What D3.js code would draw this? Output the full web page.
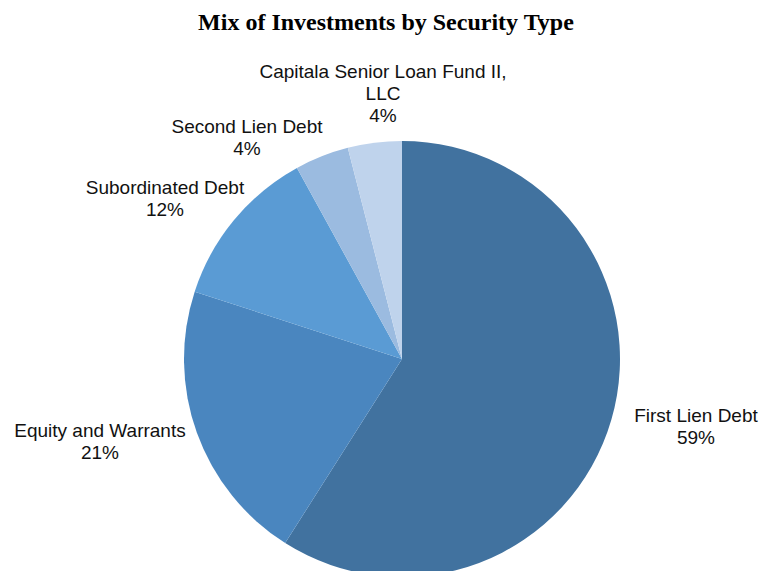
<!DOCTYPE html>
<html>
<head>
<meta charset="utf-8">
<script src="https://cdn.jsdelivr.net/npm/d3@7"></script>
<style>
  body { margin: 0; background: #fff; }
  svg { display: block; }
</style>
</head>
<body>
<div id="chart"></div>
<script>
const title = "Mix of Investments by Security Type";
const categories = ["First Lien Debt", "Equity and Warrants", "Subordinated Debt", "Second Lien Debt", "Capitala Senior Loan Fund II, LLC"];
const values = [59, 21, 12, 4, 4];
const colors = ["#41729f", "#4a86bf", "#5a9bd4", "#9bbbe0", "#bfd3ec"];
// label lines as shown in the picture
const labelLines = [
    ["First Lien Debt"],
    ["Equity and Warrants"],
    ["Subordinated Debt"],
    ["Second Lien Debt"],
    ["Capitala Senior Loan Fund II,", "LLC"]
];

const width = 761;
const height = 571;
const cx = 402, cy = 359, radius = 218;

const svg = d3.select("#chart")
    .append("svg")
    .attr("width", width)
    .attr("height", height);

svg.append("text")
    .attr("x", 386)
    .attr("y", 30)
    .attr("text-anchor", "middle")
    .style("font-family", "'Liberation Serif', 'Times New Roman', serif")
    .style("font-weight", "bold")
    .style("font-size", "24px")
    .text(title);

const data = categories.map((c, i) => ({ name: c, value: values[i], color: colors[i], lines: labelLines[i] }));

const pie = d3.pie().value(d => d.value).sort(null);
const arc = d3.arc().innerRadius(0).outerRadius(radius);

const g = svg.append("g").attr("transform", `translate(${cx},${cy})`);
const arcs = pie(data);

g.selectAll("path")
    .data(arcs)
    .enter().append("path")
    .attr("d", arc)
    .attr("fill", d => d.data.color);

// label anchors (centre x, first baseline) placed outside each slice
const labelPos = [[696, 422], [100, 437], [165, 194], [247, 133], [383, 78]];
const lineH = 22;

const labels = svg.append("g")
    .style("font-family", "'Liberation Sans', Arial, Helvetica, sans-serif")
    .style("font-size", "19px")
    .attr("fill", "#111");

arcs.forEach((a, i) => {
    const [x, y] = labelPos[i];
    const lines = a.data.lines.concat([Math.round(a.data.value) + "%"]);
    const t = labels.append("text")
        .attr("text-anchor", "middle")
        .attr("x", x)
        .attr("y", y);
    lines.forEach((ln, j) => {
        t.append("tspan")
            .attr("x", x)
            .attr("dy", j === 0 ? 0 : lineH)
            .text(ln);
    });
});
</script>
</body>
</html>
